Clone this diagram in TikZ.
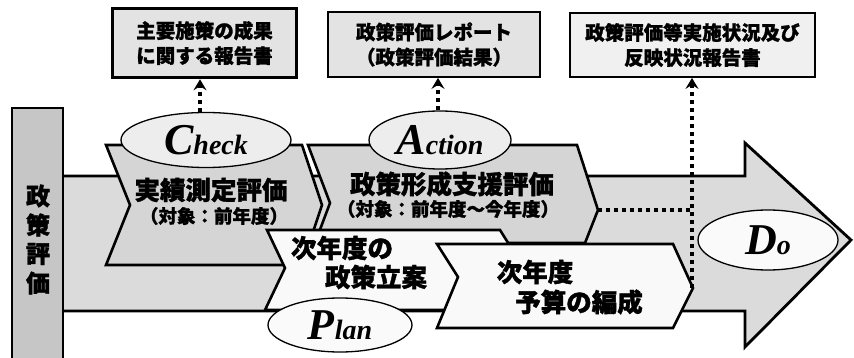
\documentclass[tikz,border=0pt]{standalone}
\usepackage{fontspec}
\newfontfamily\jp{Noto Sans CJK JP}[BoldFeatures={FakeBold=1.3}]
\newfontfamily\lat{Liberation Serif}
\usetikzlibrary{arrows.meta,shapes.geometric}
\tikzset{
  arrowbody/.style={fill=gray!28, draw=black, line width=2.8pt, line join=miter},
  sidebar/.style={fill=gray!45, draw=black, line width=1.6pt},
  evalshape/.style={fill=gray!33, draw=black, line width=2.6pt, line join=miter},
  planshape/.style={fill=gray!5, draw=black, line width=2.6pt, line join=miter},
  pdcaell/.style={ellipse, draw=black, line width=1.3pt, inner sep=0pt},
  report/.style={draw=black, fill=gray!22, line width=1.8pt, inner sep=0pt, align=center,
     font=\jp\bfseries\fontsize{19.5}{25}\selectfont},
  bigtxt/.style={font=\jp\bfseries\fontsize{25.5}{29}\selectfont, inner sep=0pt},
  smalltxt/.style={font=\jp\bfseries\fontsize{18.5}{22}\selectfont, inner sep=0pt},
  dotline/.style={line width=3.6pt, dash pattern=on 4pt off 4pt},
  dotarrow/.style={dotline, -{Stealth[length=11pt,width=13pt,inset=4pt]}},
}
\newcommand{\pdca}[2]{{\lat\bfseries\itshape\fontsize{44}{44}\selectfont #1\fontsize{28}{28}\selectfont #2}}
\begin{document}
\begin{tikzpicture}[x=1pt,y=-1pt]
\useasboundingbox (0,0) rectangle (854,358);
\clip (0,0) rectangle (854,358);
% big arrow
\draw[arrowbody] (60,176) -- (745,176) -- (745,143) -- (851,240) -- (745,347) -- (745,311) -- (60,311) -- cycle;
% side bar
\draw[sidebar] (12,108) rectangle (63,365);
\node[font=\jp\bfseries\fontsize{24}{24}\selectfont, inner sep=0pt] (s1) at (38,196) {政};
\node[font=\jp\bfseries\fontsize{24}{24}\selectfont, inner sep=0pt] (s2) at (38,225) {策};
\node[font=\jp\bfseries\fontsize{24}{24}\selectfont, inner sep=0pt] (s3) at (38,254) {評};
\node[font=\jp\bfseries\fontsize{24}{24}\selectfont, inner sep=0pt] (s4) at (38,283) {価};
% check & action shapes
\draw[evalshape] (106,145) -- (302,145) -- (322,205) -- (302,265) -- (106,265) -- (130,205) -- cycle;
\draw[evalshape] (308,145) -- (577,145) -- (598,210) -- (585,243) -- (315,243) -- (330,203) -- cycle;
\coordinate (acttip) at (598,210);
% plan & budget shapes
\draw[planshape] (267,230) -- (500,230) -- (525,270) -- (500,310) -- (265,310) -- (285,268) -- cycle;
\draw[planshape] (437,244) -- (673,244) -- (693,288) -- (673,328) -- (437,328) -- (458,277) -- cycle;
\coordinate (budtip) at (692,288);
% ellipses
\node[pdcaell, fill=gray!14, minimum width=170pt, minimum height=55pt] (chk) at (206,140) {\pdca{C}{heck}};
\node[pdcaell, fill=gray!14, minimum width=142pt, minimum height=58pt] (act) at (440,140) {\pdca{A}{ction}};
\node[pdcaell, fill=gray!4, minimum width=144pt, minimum height=54pt] (pln) at (340,325) {\pdca{P}{lan}};
\node[pdcaell, fill=gray!4, minimum width=140pt, minimum height=60pt] (do) at (768,240) {\pdca{D}{o}};
% texts
\node[bigtxt] (t1) at (211,190) {実績測定評価};
\node[smalltxt] (t1b) at (214,216) {（対象：前年度）};
\node[bigtxt] (t2) at (452,184) {政策形成支援評価};
\node[smalltxt] (t2b) at (448,209) {（対象：前年度～今年度）};
\node[bigtxt] (t3) at (342,248) {次年度の};
\node[bigtxt] (t3b) at (376,277) {政策立案};
\node[bigtxt] (t4) at (535,272) {次年度};
\node[bigtxt] (t4b) at (579,302) {予算の編成};
% report boxes
\node[report, line width=3.6pt, minimum width=184pt, minimum height=69pt] (r1) at (204.5,43) {主要施策の成果\\に関する報告書};
\node[report, minimum width=212pt, minimum height=65pt] (r2) at (434,44.5) {政策評価レポート\\（政策評価結果）};
\node[report, fill=gray!12, minimum width=245pt, minimum height=64pt] (r3) at (692.5,45) {政策評価等実施状況及び\\反映状況報告書};
% dotted connectors
\draw[dotarrow] (chk.north -| 200,0) -- (r1.south -| 200,0);
\draw[dotarrow] (act.north -| 438,0) -- (r2.south -| 438,0);
\draw[dotline] (acttip) -- (acttip -| budtip);
\draw[dotarrow] (budtip) -- (budtip |- r3.south);
\end{tikzpicture}
\end{document}
